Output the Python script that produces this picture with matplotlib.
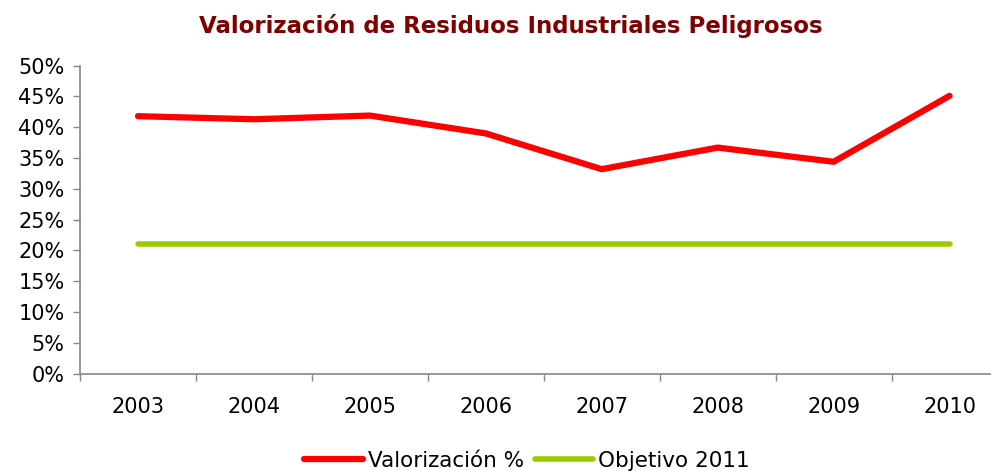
import matplotlib.pyplot as plt
from matplotlib.ticker import FixedLocator, PercentFormatter

# Data
years = ['2003', '2004', '2005', '2006', '2007', '2008', '2009', '2010']
valorizacion = [41.8, 41.3, 41.9, 39.0, 33.2, 36.7, 34.4, 45.1]
objetivo = [21.0, 21.0, 21.0, 21.0, 21.0, 21.0, 21.0, 21.0]

fig = plt.figure(figsize=(9.91, 4.71), dpi=100)
ax = fig.add_axes([0.0807, 0.2066, 0.936, 0.654])

x = range(len(years))
ax.plot(x, valorizacion, color='#ff0000', lw=4.5, solid_capstyle='round',
        solid_joinstyle='round', label='Valorización %')
ax.plot(x, objetivo, color='#99cc00', lw=4.0, solid_capstyle='round',
        label='Objetivo 2011')

ax.set_xlim(-0.5, len(years) - 0.5)
ax.set_ylim(0, 50)
ax.set_yticks(range(0, 51, 5))
ax.yaxis.set_major_formatter(PercentFormatter(decimals=0))

# category labels centred, tick marks between categories
ax.set_xticks(list(x))
ax.set_xticklabels(years)
ax.xaxis.set_minor_locator(FixedLocator([i - 0.5 for i in range(len(years) + 1)]))
ax.tick_params(axis='x', which='major', length=0, pad=17, labelsize=15, colors='#000000')
ax.tick_params(axis='x', which='minor', length=5, width=1, color='#868686')
ax.tick_params(axis='y', length=5, width=1, color='#868686', labelsize=15, pad=6)

for side in ['top', 'right']:
    ax.spines[side].set_visible(False)
for side in ['left', 'bottom']:
    ax.spines[side].set_color('#868686')
    ax.spines[side].set_linewidth(1.2)

fig.text(0.515, 0.945, 'Valorización de Residuos Industriales Peligrosos',
         ha='center', va='center', fontsize=16.5, fontweight='bold', color='#800000')

leg = fig.legend(loc='center', bbox_to_anchor=(0.532, 0.022), ncol=2, frameon=False,
                 fontsize=15.5, handlelength=2.7, handletextpad=0.25, columnspacing=0.5)

fig.savefig('out.png', dpi=100)
